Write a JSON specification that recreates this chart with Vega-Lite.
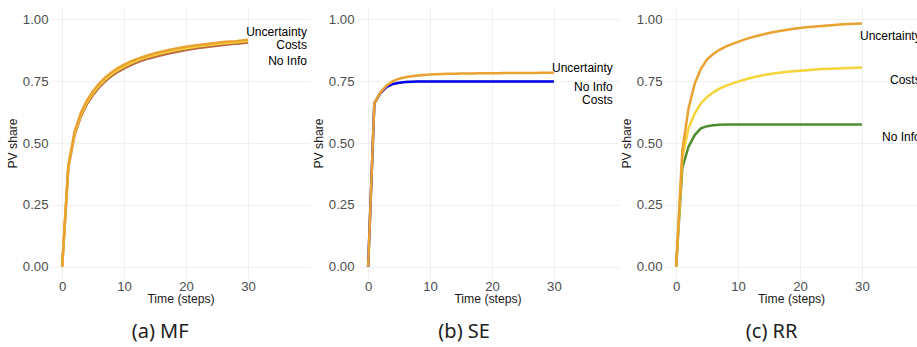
{
"$schema": "https://vega.github.io/schema/vega-lite/v6.json",
"background": "white",
"padding": {"left": 6, "top": 7, "right": 0, "bottom": 0},
"spacing": 2,
"resolve": {"scale": {"color": "independent"}},
"config": {
  "view": {"stroke": null},
  "font": "Liberation Sans",
  "axis": {"domain": false, "ticks": false, "labelFont": "Liberation Sans", "labelFontSize": 13.2, "labelColor": "#4D4D4D", "labelPadding": 3, "titleFont": "Liberation Sans", "titleFontSize": 12.2, "titleFontWeight": "normal", "titleColor": "#1A1A1A", "titlePadding": 3, "gridColor": "#EBEBEB", "gridWidth": 0.8, "labelFlush": false, "labelOverlap": false},
  "axisX": {"labelPadding": 1, "titlePadding": 0},
  "title": {"orient": "bottom", "frame": "bounds", "anchor": "middle", "font": "Noto Sans", "fontSize": 20, "fontWeight": "normal", "color": "#222222", "offset": 18}
},
"datasets": {
"lines": [
{"p":"MF","s":"No Info","t":0,"v":0},{"p":"MF","s":"No Info","t":1,"v":0.4},{"p":"MF","s":"No Info","t":2,"v":0.532},{"p":"MF","s":"No Info","t":3,"v":0.606},{"p":"MF","s":"No Info","t":4,"v":0.657},{"p":"MF","s":"No Info","t":5,"v":0.695},{"p":"MF","s":"No Info","t":6,"v":0.726},{"p":"MF","s":"No Info","t":7,"v":0.751},{"p":"MF","s":"No Info","t":8,"v":0.771},{"p":"MF","s":"No Info","t":9,"v":0.788},{"p":"MF","s":"No Info","t":10,"v":0.802},{"p":"MF","s":"No Info","t":11,"v":0.814},{"p":"MF","s":"No Info","t":12,"v":0.825},{"p":"MF","s":"No Info","t":13,"v":0.834},{"p":"MF","s":"No Info","t":14,"v":0.842},{"p":"MF","s":"No Info","t":15,"v":0.849},{"p":"MF","s":"No Info","t":16,"v":0.855},{"p":"MF","s":"No Info","t":17,"v":0.861},{"p":"MF","s":"No Info","t":18,"v":0.866},{"p":"MF","s":"No Info","t":19,"v":0.871},{"p":"MF","s":"No Info","t":20,"v":0.876},{"p":"MF","s":"No Info","t":21,"v":0.88},{"p":"MF","s":"No Info","t":22,"v":0.884},{"p":"MF","s":"No Info","t":23,"v":0.887},{"p":"MF","s":"No Info","t":24,"v":0.89},{"p":"MF","s":"No Info","t":25,"v":0.893},{"p":"MF","s":"No Info","t":26,"v":0.896},{"p":"MF","s":"No Info","t":27,"v":0.899},{"p":"MF","s":"No Info","t":28,"v":0.901},{"p":"MF","s":"No Info","t":29,"v":0.903},{"p":"MF","s":"No Info","t":30,"v":0.906},
{"p":"MF","s":"Costs","t":0,"v":0},{"p":"MF","s":"Costs","t":1,"v":0.405},{"p":"MF","s":"Costs","t":2,"v":0.538},{"p":"MF","s":"Costs","t":3,"v":0.613},{"p":"MF","s":"Costs","t":4,"v":0.665},{"p":"MF","s":"Costs","t":5,"v":0.703},{"p":"MF","s":"Costs","t":6,"v":0.734},{"p":"MF","s":"Costs","t":7,"v":0.759},{"p":"MF","s":"Costs","t":8,"v":0.779},{"p":"MF","s":"Costs","t":9,"v":0.796},{"p":"MF","s":"Costs","t":10,"v":0.81},{"p":"MF","s":"Costs","t":11,"v":0.822},{"p":"MF","s":"Costs","t":12,"v":0.833},{"p":"MF","s":"Costs","t":13,"v":0.842},{"p":"MF","s":"Costs","t":14,"v":0.85},{"p":"MF","s":"Costs","t":15,"v":0.857},{"p":"MF","s":"Costs","t":16,"v":0.863},{"p":"MF","s":"Costs","t":17,"v":0.869},{"p":"MF","s":"Costs","t":18,"v":0.874},{"p":"MF","s":"Costs","t":19,"v":0.879},{"p":"MF","s":"Costs","t":20,"v":0.883},{"p":"MF","s":"Costs","t":21,"v":0.887},{"p":"MF","s":"Costs","t":22,"v":0.891},{"p":"MF","s":"Costs","t":23,"v":0.894},{"p":"MF","s":"Costs","t":24,"v":0.897},{"p":"MF","s":"Costs","t":25,"v":0.9},{"p":"MF","s":"Costs","t":26,"v":0.903},{"p":"MF","s":"Costs","t":27,"v":0.905},{"p":"MF","s":"Costs","t":28,"v":0.907},{"p":"MF","s":"Costs","t":29,"v":0.91},{"p":"MF","s":"Costs","t":30,"v":0.912},
{"p":"MF","s":"Uncertainty","t":0,"v":0},{"p":"MF","s":"Uncertainty","t":1,"v":0.41},{"p":"MF","s":"Uncertainty","t":2,"v":0.545},{"p":"MF","s":"Uncertainty","t":3,"v":0.62},{"p":"MF","s":"Uncertainty","t":4,"v":0.672},{"p":"MF","s":"Uncertainty","t":5,"v":0.71},{"p":"MF","s":"Uncertainty","t":6,"v":0.741},{"p":"MF","s":"Uncertainty","t":7,"v":0.766},{"p":"MF","s":"Uncertainty","t":8,"v":0.786},{"p":"MF","s":"Uncertainty","t":9,"v":0.803},{"p":"MF","s":"Uncertainty","t":10,"v":0.817},{"p":"MF","s":"Uncertainty","t":11,"v":0.829},{"p":"MF","s":"Uncertainty","t":12,"v":0.839},{"p":"MF","s":"Uncertainty","t":13,"v":0.848},{"p":"MF","s":"Uncertainty","t":14,"v":0.856},{"p":"MF","s":"Uncertainty","t":15,"v":0.863},{"p":"MF","s":"Uncertainty","t":16,"v":0.869},{"p":"MF","s":"Uncertainty","t":17,"v":0.875},{"p":"MF","s":"Uncertainty","t":18,"v":0.88},{"p":"MF","s":"Uncertainty","t":19,"v":0.885},{"p":"MF","s":"Uncertainty","t":20,"v":0.889},{"p":"MF","s":"Uncertainty","t":21,"v":0.893},{"p":"MF","s":"Uncertainty","t":22,"v":0.896},{"p":"MF","s":"Uncertainty","t":23,"v":0.899},{"p":"MF","s":"Uncertainty","t":24,"v":0.902},{"p":"MF","s":"Uncertainty","t":25,"v":0.905},{"p":"MF","s":"Uncertainty","t":26,"v":0.908},{"p":"MF","s":"Uncertainty","t":27,"v":0.91},{"p":"MF","s":"Uncertainty","t":28,"v":0.912},{"p":"MF","s":"Uncertainty","t":29,"v":0.915},{"p":"MF","s":"Uncertainty","t":30,"v":0.918},
{"p":"SE","s":"Costs","t":0,"v":0},{"p":"SE","s":"Costs","t":1,"v":0.66},{"p":"SE","s":"Costs","t":2,"v":0.703},{"p":"SE","s":"Costs","t":3,"v":0.727},{"p":"SE","s":"Costs","t":4,"v":0.739},{"p":"SE","s":"Costs","t":5,"v":0.744},{"p":"SE","s":"Costs","t":6,"v":0.747},{"p":"SE","s":"Costs","t":7,"v":0.748},{"p":"SE","s":"Costs","t":8,"v":0.749},{"p":"SE","s":"Costs","t":9,"v":0.749},{"p":"SE","s":"Costs","t":10,"v":0.749},{"p":"SE","s":"Costs","t":11,"v":0.749},{"p":"SE","s":"Costs","t":12,"v":0.749},{"p":"SE","s":"Costs","t":13,"v":0.749},{"p":"SE","s":"Costs","t":14,"v":0.749},{"p":"SE","s":"Costs","t":15,"v":0.749},{"p":"SE","s":"Costs","t":16,"v":0.749},{"p":"SE","s":"Costs","t":17,"v":0.749},{"p":"SE","s":"Costs","t":18,"v":0.749},{"p":"SE","s":"Costs","t":19,"v":0.749},{"p":"SE","s":"Costs","t":20,"v":0.749},{"p":"SE","s":"Costs","t":21,"v":0.749},{"p":"SE","s":"Costs","t":22,"v":0.749},{"p":"SE","s":"Costs","t":23,"v":0.749},{"p":"SE","s":"Costs","t":24,"v":0.749},{"p":"SE","s":"Costs","t":25,"v":0.749},{"p":"SE","s":"Costs","t":26,"v":0.749},{"p":"SE","s":"Costs","t":27,"v":0.749},{"p":"SE","s":"Costs","t":28,"v":0.749},{"p":"SE","s":"Costs","t":29,"v":0.749},{"p":"SE","s":"Costs","t":30,"v":0.749},
{"p":"SE","s":"No Info","t":0,"v":0},{"p":"SE","s":"No Info","t":1,"v":0.66},{"p":"SE","s":"No Info","t":2,"v":0.703},{"p":"SE","s":"No Info","t":3,"v":0.727},{"p":"SE","s":"No Info","t":4,"v":0.739},{"p":"SE","s":"No Info","t":5,"v":0.744},{"p":"SE","s":"No Info","t":6,"v":0.747},{"p":"SE","s":"No Info","t":7,"v":0.748},{"p":"SE","s":"No Info","t":8,"v":0.749},{"p":"SE","s":"No Info","t":9,"v":0.749},{"p":"SE","s":"No Info","t":10,"v":0.749},{"p":"SE","s":"No Info","t":11,"v":0.749},{"p":"SE","s":"No Info","t":12,"v":0.749},{"p":"SE","s":"No Info","t":13,"v":0.749},{"p":"SE","s":"No Info","t":14,"v":0.749},{"p":"SE","s":"No Info","t":15,"v":0.749},{"p":"SE","s":"No Info","t":16,"v":0.749},{"p":"SE","s":"No Info","t":17,"v":0.749},{"p":"SE","s":"No Info","t":18,"v":0.749},{"p":"SE","s":"No Info","t":19,"v":0.749},{"p":"SE","s":"No Info","t":20,"v":0.749},{"p":"SE","s":"No Info","t":21,"v":0.749},{"p":"SE","s":"No Info","t":22,"v":0.749},{"p":"SE","s":"No Info","t":23,"v":0.749},{"p":"SE","s":"No Info","t":24,"v":0.749},{"p":"SE","s":"No Info","t":25,"v":0.749},{"p":"SE","s":"No Info","t":26,"v":0.749},{"p":"SE","s":"No Info","t":27,"v":0.749},{"p":"SE","s":"No Info","t":28,"v":0.749},{"p":"SE","s":"No Info","t":29,"v":0.749},{"p":"SE","s":"No Info","t":30,"v":0.749},
{"p":"SE","s":"Uncertainty","t":0,"v":0},{"p":"SE","s":"Uncertainty","t":1,"v":0.66},{"p":"SE","s":"Uncertainty","t":2,"v":0.705},{"p":"SE","s":"Uncertainty","t":3,"v":0.733},{"p":"SE","s":"Uncertainty","t":4,"v":0.75},{"p":"SE","s":"Uncertainty","t":5,"v":0.76},{"p":"SE","s":"Uncertainty","t":6,"v":0.766},{"p":"SE","s":"Uncertainty","t":7,"v":0.77},{"p":"SE","s":"Uncertainty","t":8,"v":0.773},{"p":"SE","s":"Uncertainty","t":9,"v":0.775},{"p":"SE","s":"Uncertainty","t":10,"v":0.777},{"p":"SE","s":"Uncertainty","t":11,"v":0.778},{"p":"SE","s":"Uncertainty","t":12,"v":0.779},{"p":"SE","s":"Uncertainty","t":13,"v":0.78},{"p":"SE","s":"Uncertainty","t":14,"v":0.78},{"p":"SE","s":"Uncertainty","t":15,"v":0.781},{"p":"SE","s":"Uncertainty","t":16,"v":0.781},{"p":"SE","s":"Uncertainty","t":17,"v":0.781},{"p":"SE","s":"Uncertainty","t":18,"v":0.782},{"p":"SE","s":"Uncertainty","t":19,"v":0.782},{"p":"SE","s":"Uncertainty","t":20,"v":0.782},{"p":"SE","s":"Uncertainty","t":21,"v":0.782},{"p":"SE","s":"Uncertainty","t":22,"v":0.783},{"p":"SE","s":"Uncertainty","t":23,"v":0.783},{"p":"SE","s":"Uncertainty","t":24,"v":0.783},{"p":"SE","s":"Uncertainty","t":25,"v":0.783},{"p":"SE","s":"Uncertainty","t":26,"v":0.783},{"p":"SE","s":"Uncertainty","t":27,"v":0.783},{"p":"SE","s":"Uncertainty","t":28,"v":0.784},{"p":"SE","s":"Uncertainty","t":29,"v":0.784},{"p":"SE","s":"Uncertainty","t":30,"v":0.784},
{"p":"RR","s":"No Info","t":0,"v":0},{"p":"RR","s":"No Info","t":1,"v":0.4},{"p":"RR","s":"No Info","t":2,"v":0.485},{"p":"RR","s":"No Info","t":3,"v":0.532},{"p":"RR","s":"No Info","t":4,"v":0.559},{"p":"RR","s":"No Info","t":5,"v":0.568},{"p":"RR","s":"No Info","t":6,"v":0.572},{"p":"RR","s":"No Info","t":7,"v":0.574},{"p":"RR","s":"No Info","t":8,"v":0.575},{"p":"RR","s":"No Info","t":9,"v":0.575},{"p":"RR","s":"No Info","t":10,"v":0.575},{"p":"RR","s":"No Info","t":11,"v":0.575},{"p":"RR","s":"No Info","t":12,"v":0.575},{"p":"RR","s":"No Info","t":13,"v":0.575},{"p":"RR","s":"No Info","t":14,"v":0.575},{"p":"RR","s":"No Info","t":15,"v":0.575},{"p":"RR","s":"No Info","t":16,"v":0.575},{"p":"RR","s":"No Info","t":17,"v":0.575},{"p":"RR","s":"No Info","t":18,"v":0.575},{"p":"RR","s":"No Info","t":19,"v":0.575},{"p":"RR","s":"No Info","t":20,"v":0.575},{"p":"RR","s":"No Info","t":21,"v":0.575},{"p":"RR","s":"No Info","t":22,"v":0.575},{"p":"RR","s":"No Info","t":23,"v":0.575},{"p":"RR","s":"No Info","t":24,"v":0.575},{"p":"RR","s":"No Info","t":25,"v":0.575},{"p":"RR","s":"No Info","t":26,"v":0.575},{"p":"RR","s":"No Info","t":27,"v":0.575},{"p":"RR","s":"No Info","t":28,"v":0.575},{"p":"RR","s":"No Info","t":29,"v":0.575},{"p":"RR","s":"No Info","t":30,"v":0.575},
{"p":"RR","s":"Costs","t":0,"v":0},{"p":"RR","s":"Costs","t":1,"v":0.44},{"p":"RR","s":"Costs","t":2,"v":0.56},{"p":"RR","s":"Costs","t":3,"v":0.62},{"p":"RR","s":"Costs","t":4,"v":0.66},{"p":"RR","s":"Costs","t":5,"v":0.686},{"p":"RR","s":"Costs","t":6,"v":0.705},{"p":"RR","s":"Costs","t":7,"v":0.72},{"p":"RR","s":"Costs","t":8,"v":0.731},{"p":"RR","s":"Costs","t":9,"v":0.74},{"p":"RR","s":"Costs","t":10,"v":0.748},{"p":"RR","s":"Costs","t":11,"v":0.756},{"p":"RR","s":"Costs","t":12,"v":0.763},{"p":"RR","s":"Costs","t":13,"v":0.769},{"p":"RR","s":"Costs","t":14,"v":0.774},{"p":"RR","s":"Costs","t":15,"v":0.778},{"p":"RR","s":"Costs","t":16,"v":0.782},{"p":"RR","s":"Costs","t":17,"v":0.785},{"p":"RR","s":"Costs","t":18,"v":0.788},{"p":"RR","s":"Costs","t":19,"v":0.79},{"p":"RR","s":"Costs","t":20,"v":0.792},{"p":"RR","s":"Costs","t":21,"v":0.794},{"p":"RR","s":"Costs","t":22,"v":0.796},{"p":"RR","s":"Costs","t":23,"v":0.798},{"p":"RR","s":"Costs","t":24,"v":0.799},{"p":"RR","s":"Costs","t":25,"v":0.8},{"p":"RR","s":"Costs","t":26,"v":0.801},{"p":"RR","s":"Costs","t":27,"v":0.802},{"p":"RR","s":"Costs","t":28,"v":0.803},{"p":"RR","s":"Costs","t":29,"v":0.804},{"p":"RR","s":"Costs","t":30,"v":0.805},
{"p":"RR","s":"Uncertainty","t":0,"v":0},{"p":"RR","s":"Uncertainty","t":1,"v":0.47},{"p":"RR","s":"Uncertainty","t":2,"v":0.64},{"p":"RR","s":"Uncertainty","t":3,"v":0.74},{"p":"RR","s":"Uncertainty","t":4,"v":0.8},{"p":"RR","s":"Uncertainty","t":5,"v":0.838},{"p":"RR","s":"Uncertainty","t":6,"v":0.86},{"p":"RR","s":"Uncertainty","t":7,"v":0.877},{"p":"RR","s":"Uncertainty","t":8,"v":0.89},{"p":"RR","s":"Uncertainty","t":9,"v":0.9},{"p":"RR","s":"Uncertainty","t":10,"v":0.909},{"p":"RR","s":"Uncertainty","t":11,"v":0.918},{"p":"RR","s":"Uncertainty","t":12,"v":0.926},{"p":"RR","s":"Uncertainty","t":13,"v":0.933},{"p":"RR","s":"Uncertainty","t":14,"v":0.939},{"p":"RR","s":"Uncertainty","t":15,"v":0.945},{"p":"RR","s":"Uncertainty","t":16,"v":0.95},{"p":"RR","s":"Uncertainty","t":17,"v":0.954},{"p":"RR","s":"Uncertainty","t":18,"v":0.958},{"p":"RR","s":"Uncertainty","t":19,"v":0.962},{"p":"RR","s":"Uncertainty","t":20,"v":0.965},{"p":"RR","s":"Uncertainty","t":21,"v":0.968},{"p":"RR","s":"Uncertainty","t":22,"v":0.97},{"p":"RR","s":"Uncertainty","t":23,"v":0.972},{"p":"RR","s":"Uncertainty","t":24,"v":0.974},{"p":"RR","s":"Uncertainty","t":25,"v":0.976},{"p":"RR","s":"Uncertainty","t":26,"v":0.978},{"p":"RR","s":"Uncertainty","t":27,"v":0.98},{"p":"RR","s":"Uncertainty","t":28,"v":0.981},{"p":"RR","s":"Uncertainty","t":29,"v":0.982},{"p":"RR","s":"Uncertainty","t":30,"v":0.983}
],
"labels": [
{"p":"MF","label":"Uncertainty","t":39.5,"v":0.95},{"p":"MF","label":"Costs","t":39.5,"v":0.896},{"p":"MF","label":"No Info","t":39.5,"v":0.833},
{"p":"SE","label":"Uncertainty","t":39.5,"v":0.802},{"p":"SE","label":"No Info","t":39.5,"v":0.725},{"p":"SE","label":"Costs","t":39.5,"v":0.674},
{"p":"RR","label":"Uncertainty","t":39.5,"v":0.932},{"p":"RR","label":"Costs","t":39.5,"v":0.753},{"p":"RR","label":"No Info","t":39.5,"v":0.525}
]
},
"hconcat": [
{
 "width": 259, "height": 272,
 "title": {"text": "(a) MF", "dx": 2},
 "layer": [
  {"data": {"name": "lines"}, "transform": [{"filter": "datum.p == 'MF'"}],
   "mark": {"type": "line", "strokeWidth": 2.5},
   "encoding": {
    "x": {"field": "t", "type": "quantitative", "scale": {"domain": [-1.8, 40], "nice": false, "zero": false}, "axis": {"title": "Time (steps)", "values": [0,5,10,15,20,25,30,35], "labelExpr": "datum.value % 10 == 0 ? datum.label : ''", "gridColor": {"condition": {"test": "datum.value % 10 == 0", "value": "#EBEBEB"}, "value": "#F4F4F4"}}},
    "y": {"field": "v", "type": "quantitative", "scale": {"domain": [-0.05, 1.05], "nice": false}, "axis": {"title": "PV share", "values": [0,0.125,0.25,0.375,0.5,0.625,0.75,0.875,1], "format": ".2f", "labelExpr": "round(datum.value*8) % 2 == 0 ? datum.label : ''", "gridColor": {"condition": {"test": "round(datum.value*8) % 2 == 0", "value": "#EBEBEB"}, "value": "#F4F4F4"}}},
    "color": {"field": "s", "type": "nominal", "sort": null, "scale": {"domain": ["No Info","Costs","Uncertainty"], "range": ["#BC6B43","#F5D43A","#E9A130"]}, "legend": null}
   }},
  {"data": {"name": "labels"}, "transform": [{"filter": "datum.p == 'MF'"}],
   "mark": {"type": "text", "align": "right", "baseline": "middle", "fontSize": 12, "font": "Liberation Sans", "color": "#000000"},
   "encoding": {"x": {"field": "t", "type": "quantitative"}, "y": {"field": "v", "type": "quantitative"}, "text": {"field": "label"}}}
 ]
},
{
 "width": 261, "height": 272,
 "title": {"text": "(b) SE", "dx": -1},
 "layer": [
  {"data": {"name": "lines"}, "transform": [{"filter": "datum.p == 'SE'"}],
   "mark": {"type": "line", "strokeWidth": 2.5},
   "encoding": {
    "x": {"field": "t", "type": "quantitative", "scale": {"domain": [-1.8, 40.35], "nice": false, "zero": false}, "axis": {"title": "Time (steps)", "values": [0,5,10,15,20,25,30,35], "labelExpr": "datum.value % 10 == 0 ? datum.label : ''", "gridColor": {"condition": {"test": "datum.value % 10 == 0", "value": "#EBEBEB"}, "value": "#F4F4F4"}}},
    "y": {"field": "v", "type": "quantitative", "scale": {"domain": [-0.05, 1.05], "nice": false}, "axis": {"title": "PV share", "values": [0,0.125,0.25,0.375,0.5,0.625,0.75,0.875,1], "format": ".2f", "labelExpr": "round(datum.value*8) % 2 == 0 ? datum.label : ''", "gridColor": {"condition": {"test": "round(datum.value*8) % 2 == 0", "value": "#EBEBEB"}, "value": "#F4F4F4"}}},
    "color": {"field": "s", "type": "nominal", "sort": null, "scale": {"domain": ["Costs","No Info","Uncertainty"], "range": ["#F5D43A","#0000FF","#E9A130"]}, "legend": null}
   }},
  {"data": {"name": "labels"}, "transform": [{"filter": "datum.p == 'SE'"}],
   "mark": {"type": "text", "align": "right", "baseline": "middle", "fontSize": 12, "font": "Liberation Sans", "color": "#000000"},
   "encoding": {"x": {"field": "t", "type": "quantitative"}, "y": {"field": "v", "type": "quantitative"}, "text": {"field": "label"}}}
 ]
},
{
 "width": 252, "height": 272,
 "title": {"text": "(c) RR", "dx": 3},
 "layer": [
  {"data": {"name": "lines"}, "transform": [{"filter": "datum.p == 'RR'"}],
   "mark": {"type": "line", "strokeWidth": 2.5},
   "encoding": {
    "x": {"field": "t", "type": "quantitative", "scale": {"domain": [-1.8, 38.9], "nice": false, "zero": false}, "axis": {"title": "Time (steps)", "values": [0,5,10,15,20,25,30,35], "labelExpr": "datum.value % 10 == 0 ? datum.label : ''", "gridColor": {"condition": {"test": "datum.value % 10 == 0", "value": "#EBEBEB"}, "value": "#F4F4F4"}}},
    "y": {"field": "v", "type": "quantitative", "scale": {"domain": [-0.05, 1.05], "nice": false}, "axis": {"title": "PV share", "values": [0,0.125,0.25,0.375,0.5,0.625,0.75,0.875,1], "format": ".2f", "labelExpr": "round(datum.value*8) % 2 == 0 ? datum.label : ''", "gridColor": {"condition": {"test": "round(datum.value*8) % 2 == 0", "value": "#EBEBEB"}, "value": "#F4F4F4"}}},
    "color": {"field": "s", "type": "nominal", "sort": null, "scale": {"domain": ["No Info","Costs","Uncertainty"], "range": ["#4E8C2E","#F5D43A","#E9A130"]}, "legend": null}
   }},
  {"data": {"name": "labels"}, "transform": [{"filter": "datum.p == 'RR'"}],
   "mark": {"type": "text", "align": "right", "baseline": "middle", "fontSize": 12, "font": "Liberation Sans", "color": "#000000", "clip": true},
   "encoding": {"x": {"field": "t", "type": "quantitative"}, "y": {"field": "v", "type": "quantitative"}, "text": {"field": "label"}}}
 ]
}
]
}
